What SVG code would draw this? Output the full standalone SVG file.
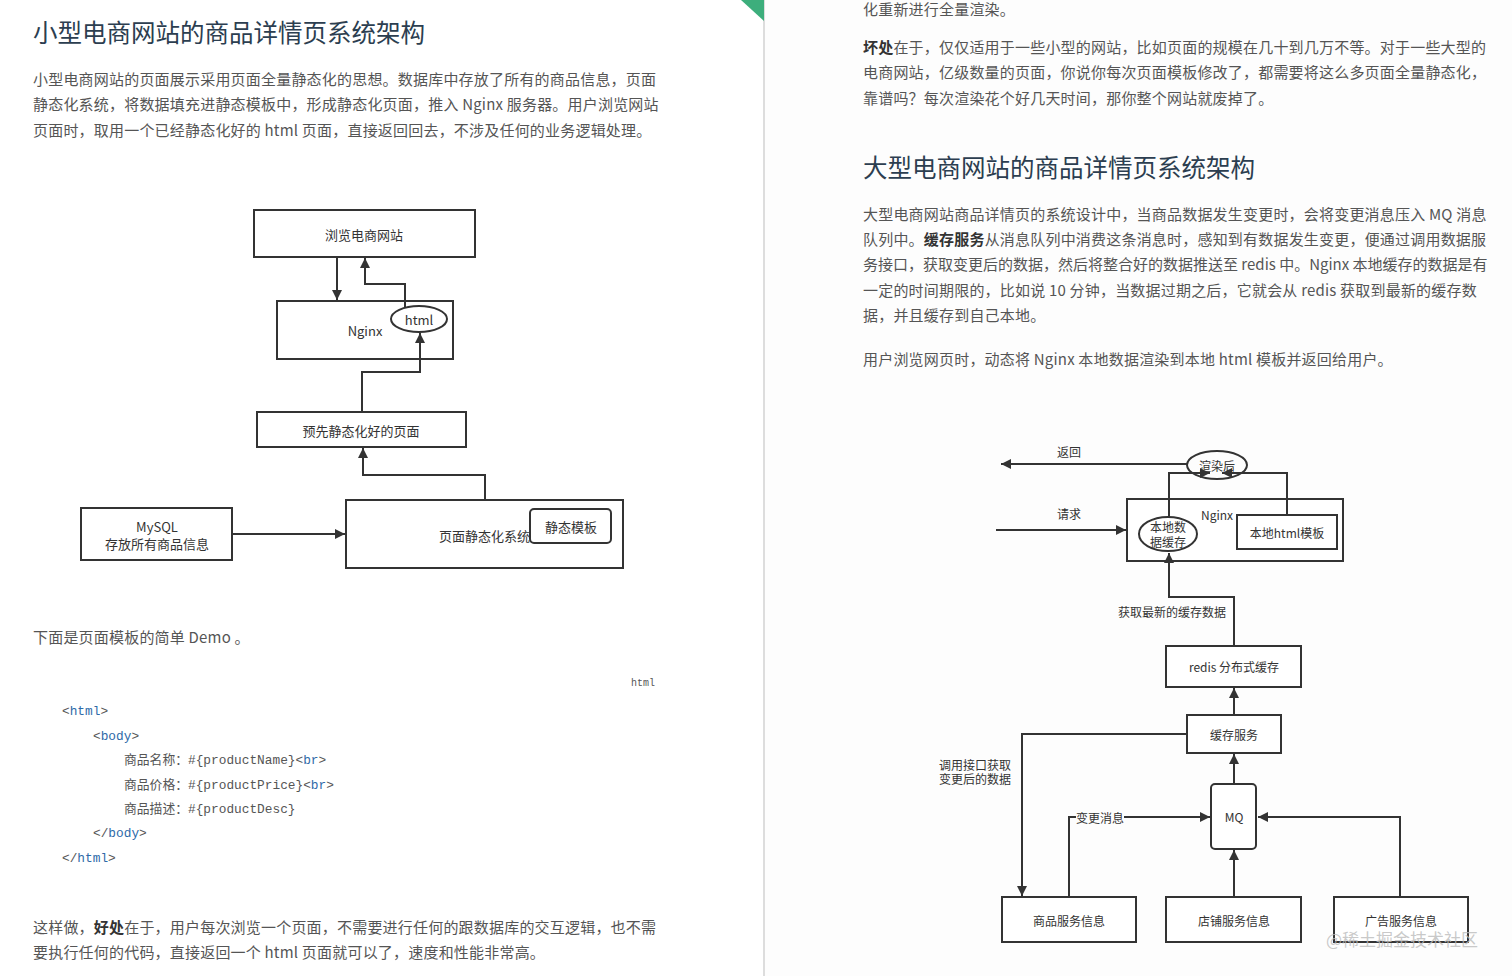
<svg xmlns="http://www.w3.org/2000/svg" width="1512" height="976" viewBox="0 0 1512 976">
<style>
.t{font-family:"Noto Sans CJK SC","Noto Sans",sans-serif;}
.h{font-size:24.5px;fill:#2c3e50;}
.p{font-size:15px;fill:#555;letter-spacing:0.2px;}
.b{font-weight:bold;fill:#333;}
.n{fill:#fff;stroke:#333;stroke-width:2;}
.nl{font-family:"Noto Sans CJK SC","Noto Sans",sans-serif;font-size:13px;fill:#333;text-anchor:middle;dominant-baseline:central;}
.sl{font-family:"Noto Sans CJK SC","Noto Sans",sans-serif;font-size:12px;fill:#333;text-anchor:middle;dominant-baseline:central;}
.c{fill:none;stroke:#333;stroke-width:2;}
.code{font-family:"Liberation Mono","DejaVu Sans Mono","Noto Sans CJK SC",monospace;font-size:12.8px;fill:#555;}
.kw{fill:#2e6aa8;}
</style>
<defs>
<marker id="ar" viewBox="0 0 10 10" refX="10" refY="5" markerWidth="12" markerHeight="10" markerUnits="userSpaceOnUse" orient="auto">
<path d="M0,0 L10,5 L0,10 z" fill="#333"/>
</marker>
</defs>
<rect x="0" y="0" width="1512" height="976" fill="#fff"/>
<rect x="765" y="0" width="747" height="976" fill="#fdfdfd"/>
<line x1="764" y1="0" x2="764" y2="976" stroke="#ddd" stroke-width="2"/>
<polygon points="741,0 764,0 764,21" fill="#3dae7c"/>

<g id="left-text" class="t">
<text x="33" y="42" class="t h">小型电商网站的商品详情页系统架构</text>
<text x="33" y="85" class="t p">小型电商网站的页面展示采用页面全量静态化的思想。数据库中存放了所有的商品信息，页面</text>
<text x="33" y="110" class="t p">静态化系统，将数据填充进静态模板中，形成静态化页面，推入 Nginx 服务器。用户浏览网站</text>
<text x="33" y="136" class="t p">页面时，取用一个已经静态化好的 html 页面，直接返回回去，不涉及任何的业务逻辑处理。</text>
<text x="33" y="643" class="t p">下面是页面模板的简单 Demo 。</text>
<text x="655" y="686" class="code" style="font-size:10px" text-anchor="end">html</text>
<text x="62" y="715" class="code">&lt;<tspan class="kw">html</tspan>&gt;</text>
<text x="93" y="740" class="code">&lt;<tspan class="kw">body</tspan>&gt;</text>
<text x="124" y="764" class="code">商品名称：#{productName}&lt;<tspan class="kw">br</tspan>&gt;</text>
<text x="124" y="789" class="code">商品价格：#{productPrice}&lt;<tspan class="kw">br</tspan>&gt;</text>
<text x="124" y="813" class="code">商品描述：#{productDesc}</text>
<text x="93" y="837" class="code">&lt;/<tspan class="kw">body</tspan>&gt;</text>
<text x="62" y="862" class="code">&lt;/<tspan class="kw">html</tspan>&gt;</text>
<text x="33" y="933" class="t p">这样做，<tspan class="b">好处</tspan>在于，用户每次浏览一个页面，不需要进行任何的跟数据库的交互逻辑，也不需</text>
<text x="33" y="958" class="t p">要执行任何的代码，直接返回一个 html 页面就可以了，速度和性能非常高。</text>
</g>

<g id="right-text" class="t">
<text x="863" y="15" class="t p">化重新进行全量渲染。</text>
<text x="863" y="53" class="t p"><tspan class="b">坏处</tspan>在于，仅仅适用于一些小型的网站，比如页面的规模在几十到几万不等。对于一些大型的</text>
<text x="863" y="78" class="t p">电商网站，亿级数量的页面，你说你每次页面模板修改了，都需要将这么多页面全量静态化，</text>
<text x="863" y="104" class="t p">靠谱吗？每次渲染花个好几天时间，那你整个网站就废掉了。</text>
<text x="863" y="177" class="t h">大型电商网站的商品详情页系统架构</text>
<text x="863" y="220" class="t p">大型电商网站商品详情页的系统设计中，当商品数据发生变更时，会将变更消息压入 MQ 消息</text>
<text x="863" y="245" class="t p">队列中。<tspan class="b">缓存服务</tspan>从消息队列中消费这条消息时，感知到有数据发生变更，便通过调用数据服</text>
<text x="863" y="270" class="t p" style="letter-spacing:0">务接口，获取变更后的数据，然后将整合好的数据推送至 redis 中。Nginx 本地缓存的数据是有</text>
<text x="863" y="296" class="t p">一定的时间期限的，比如说 10 分钟，当数据过期之后，它就会从 redis 获取到最新的缓存数</text>
<text x="863" y="321" class="t p">据，并且缓存到自己本地。</text>
<text x="863" y="365" class="t p">用户浏览网页时，动态将 Nginx 本地数据渲染到本地 html 模板并返回给用户。</text>
</g>

<!-- left diagram nodes -->
<g id="n-browse"><rect class="n" x="254" y="210" width="221" height="47"/><text class="nl" x="364" y="234">浏览电商网站</text></g>
<g id="n-nginx"><rect class="n" x="277" y="301" width="176" height="58"/><text class="nl" x="365" y="330">Nginx</text></g>
<g id="n-html"><ellipse class="n" cx="419" cy="319" rx="28" ry="13"/><text class="nl" x="419" y="319">html</text></g>
<g id="n-static-page"><rect class="n" x="257" y="412" width="209" height="35"/><text class="nl" x="361" y="430">预先静态化好的页面</text></g>
<g id="n-static-sys"><rect class="n" x="346" y="500" width="277" height="68"/><text class="nl" x="439" y="535" style="text-anchor:start">页面静态化系统</text></g>
<g id="n-template"><rect class="n" x="530" y="509" width="81" height="34" rx="4"/><text class="nl" x="571" y="526">静态模板</text></g>
<g id="n-mysql"><rect class="n" x="81" y="508" width="151" height="52"/><text class="nl" x="157" y="526">MySQL</text><text class="nl" x="157" y="543">存放所有商品信息</text></g>
<g id="connectors-left">
<path class="c" d="M337,257 V300" marker-end="url(#ar)"/>
<path class="c" d="M405,307 V284 H365 V258" marker-end="url(#ar)"/>
<path class="c" d="M362,412 V372 H420 V333" marker-end="url(#ar)"/>
<path class="c" d="M485,500 V475 H363 V448" marker-end="url(#ar)"/>
<path class="c" d="M232,534 H345" marker-end="url(#ar)"/>
</g>

<!-- right diagram nodes -->
<g id="n-nginx2"><rect class="n" x="1127" y="499" width="216" height="62"/><text class="sl" x="1217" y="514">Nginx</text></g>
<g id="n-localcache"><ellipse class="n" cx="1168" cy="534" rx="29" ry="17"/><text class="sl" x="1168" y="526">本地数</text><text class="sl" x="1168" y="541">据缓存</text></g>
<g id="n-localtpl"><rect class="n" x="1237" y="515" width="100" height="34"/><text class="sl" x="1287" y="532">本地html模板</text></g>
<g id="n-redis"><rect class="n" x="1166" y="646" width="135" height="41"/><text class="sl" x="1234" y="666">redis 分布式缓存</text></g>
<g id="n-cachesvc"><rect class="n" x="1187" y="715" width="94" height="38"/><text class="sl" x="1234" y="734">缓存服务</text></g>
<g id="n-mq"><rect class="n" x="1211" y="784" width="45" height="65" rx="4"/><text class="sl" x="1234" y="816">MQ</text></g>
<g id="n-goods"><rect class="n" x="1002" y="897" width="134" height="45"/><text class="sl" x="1069" y="920">商品服务信息</text></g>
<g id="n-shop"><rect class="n" x="1166" y="897" width="135" height="45"/><text class="sl" x="1234" y="920">店铺服务信息</text></g>
<g id="n-ad"><rect class="n" x="1334" y="897" width="134" height="45"/><text class="sl" x="1401" y="920">广告服务信息</text></g>
<g id="n-render"><ellipse cx="1217" cy="465" rx="30" ry="14" fill="#fdfdfd" stroke="#333" stroke-width="2"/></g>
<g id="connectors-right">
<path class="c" d="M1187,464 H1001" marker-end="url(#ar)"/>
<path class="c" d="M1169,517 V473 H1210" marker-end="url(#ar)"/>
<path class="c" d="M1287,515 V473 H1222" marker-end="url(#ar)"/>
<path class="c" d="M996,530 H1126" marker-end="url(#ar)"/>
<path class="c" d="M1234,646 V597 H1169 V553" marker-end="url(#ar)"/>
<path class="c" d="M1234,715 V688" marker-end="url(#ar)"/>
<path class="c" d="M1234,784 V754" marker-end="url(#ar)"/>
<path class="c" d="M1187,734 H1022 V896" marker-end="url(#ar)"/>
<path class="c" d="M1069,897 V817 H1210" marker-end="url(#ar)"/>
<path class="c" d="M1234,897 V850" marker-end="url(#ar)"/>
<path class="c" d="M1400,897 V817 H1258" marker-end="url(#ar)"/>
<text class="sl" x="1069" y="451">返回</text>
<text class="sl" x="1069" y="513">请求</text>
<text class="sl" x="1172" y="611">获取最新的缓存数据</text>
<text class="sl" x="975" y="764">调用接口获取</text>
<text class="sl" x="975" y="778">变更后的数据</text>
<rect x="1076" y="810" width="48" height="14" fill="#fdfdfd"/>
<text class="sl" x="1100" y="817">变更消息</text>
<text class="sl" x="1217" y="465">渲染后</text>
</g>
<text x="1326" y="946" class="t" style="font-size:17px;fill:#bbb;fill-opacity:0.8">@稀土掘金技术社区</text>
</svg>
